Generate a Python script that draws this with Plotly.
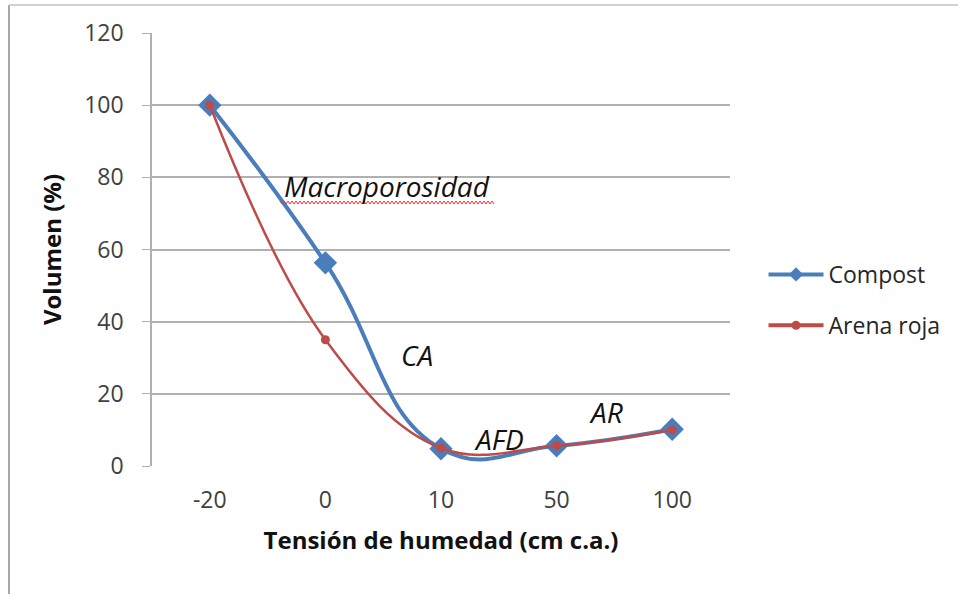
import plotly.graph_objects as go

categories = ["-20", "0", "10", "50", "100"]
compost = [100, 56.3, 4.8, 5.6, 10.2]
arena_roja = [100, 35, 5, 5.6, 10]
y_ticks = [0, 20, 40, 60, 80, 100, 120]

blue = "#4a7ebb"
red = "#be4b48"
font = "Open Sans, Liberation Sans, sans-serif"

fig = go.Figure()
fig.add_trace(go.Scatter(
    x=categories, y=compost, name="Compost", mode="lines+markers",
    line=dict(color=blue, width=4, shape="spline", smoothing=1.3),
    marker=dict(symbol="diamond", size=18, color=blue),
    showlegend=False,
))
fig.add_trace(go.Scatter(
    x=categories, y=arena_roja, name="Arena roja", mode="lines+markers",
    line=dict(color=red, width=2.5, shape="spline", smoothing=1.1),
    marker=dict(symbol="circle", size=9, color=red),
    showlegend=False,
))
# legend entries (smaller symbols, like the reference legend)
fig.add_trace(go.Scatter(
    x=[None], y=[None], name="Compost", mode="lines+markers", legendgroup="a",
    line=dict(color=blue, width=4), marker=dict(symbol="diamond", size=11, color=blue),
))
fig.add_trace(go.Scatter(
    x=[None], y=[None], name="Arena roja", mode="lines+markers", legendgroup="b",
    line=dict(color=red, width=4), marker=dict(symbol="circle", size=9, color=red),
))

annots = [
    ("Macroporosidad", 1.53, 77.6),
    ("CA", 1.79, 30.8),
    ("AFD", 2.50, 7.6),
    ("AR", 3.43, 15.0),
]
for text, x, y in annots:
    fig.add_annotation(x=x, y=y, xref="x", yref="y", text="<i>%s</i>" % text,
                       showarrow=False, font=dict(family=font, size=28, color="#111111"))

# spell-check style wavy underline under "Macroporosidad" (decoration)
W, H, L, T = 958, 594, 152, 33
pw, ph = W - L - 228, H - T - 128
def px(x):
    return (x - L) / pw
def py(y):
    return (H - 128 - y) / ph
pts = []
xpix = 280
k = 0
while xpix <= 494:
    pts.append((px(xpix), py(201 if k % 2 == 0 else 204)))
    xpix += 2
    k += 1
path = "M " + " L ".join("%.5f,%.5f" % p for p in pts)
fig.add_shape(type="path", xref="paper", yref="paper", path=path,
              line=dict(color="#ff3030", width=1))

# outer frame (left and top)
fig.add_shape(type="line", xref="paper", yref="paper",
              x0=px(9), x1=px(9), y0=py(5), y1=py(600),
              line=dict(color="#a8a8a8", width=2))
fig.add_shape(type="line", xref="paper", yref="paper",
              x0=px(9), x1=px(960), y0=py(5), y1=py(5),
              line=dict(color="#d0d0d0", width=2))

fig.update_layout(
    width=958, height=594,
    margin=dict(l=152, r=228, t=33, b=128),
    paper_bgcolor="white", plot_bgcolor="white",
    font=dict(family=font, size=23, color="#404040"),
    showlegend=True,
    legend=dict(x=1.058, y=(466 - 300) / 433, xanchor="left", yanchor="middle",
                font=dict(family=font, size=23, color="#262626"),
                tracegroupgap=18, itemwidth=55, bgcolor="rgba(0,0,0,0)"),
    xaxis=dict(
        type="category", range=[-0.5, 4.5], showgrid=False,
        showline=False, zeroline=False, ticks="",
        tickfont=dict(size=23, color="#404040"), ticklabelstandoff=18,
        title=dict(text="<b>Tensión de humedad (cm c.a.)</b>",
                   font=dict(size=24, color="#111111"), standoff=18),
    ),
    yaxis=dict(
        range=[0, 120], tickvals=y_ticks, showgrid=True, gridcolor="#b0b0b0",
        gridwidth=1.5, zeroline=False, showline=True, linecolor="#b0b0b0",
        linewidth=1.5, ticks="outside", ticklen=8, tickcolor="#b0b0b0",
        tickfont=dict(size=23, color="#404040"), ticklabelstandoff=14,
        title=dict(text="<b>Volumen (%)</b>", font=dict(size=24, color="#111111"),
                   standoff=16),
    ),
)

fig.write_html("out.html")
